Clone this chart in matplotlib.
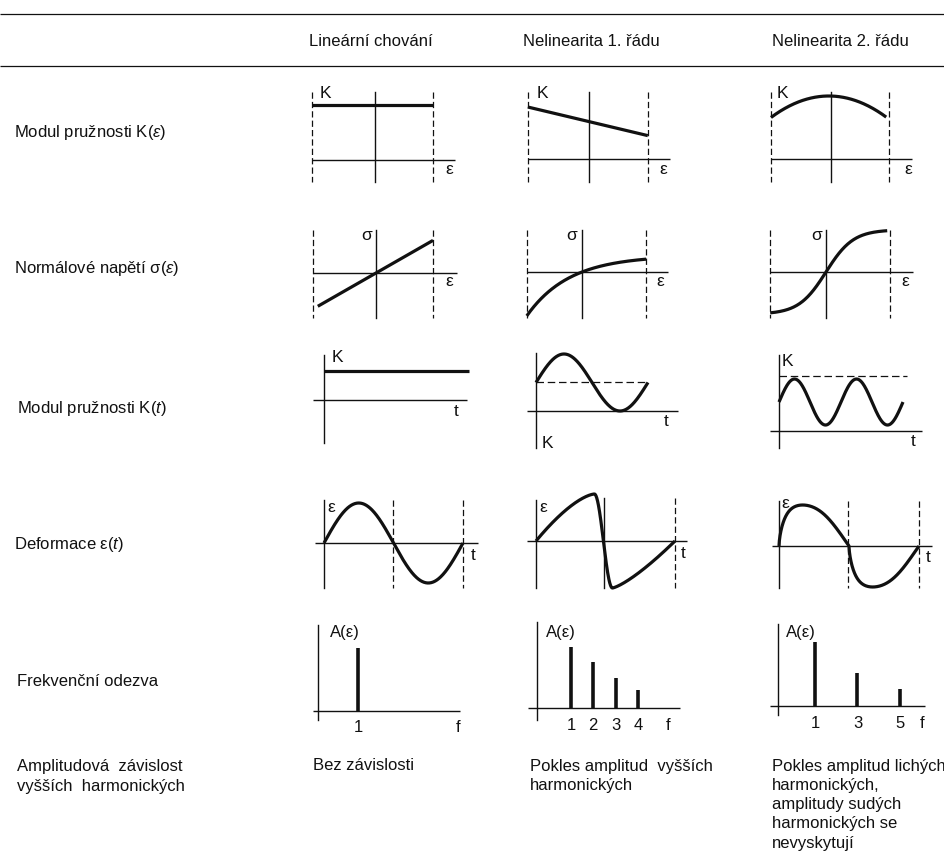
import numpy as np
import matplotlib
matplotlib.use("Agg")
import matplotlib.pyplot as plt

plt.rcParams["font.family"] = ["Liberation Sans", "DejaVu Sans"]
plt.rcParams["mathtext.fontset"] = "custom"
plt.rcParams["mathtext.rm"] = "Liberation Sans"
plt.rcParams["mathtext.it"] = "Liberation Sans:italic"

# ---- table text
col_heads = ["Lineární chování", "Nelinearita 1. řádu", "Nelinearita 2. řádu"]
row_heads = [
    "Modul pružnosti K($\\mathit{ε}$)",
    "Normálové napětí σ($\\mathit{ε}$)",
    "Modul pružnosti K($\\mathit{t}$)",
    "Deformace ε($\\mathit{t}$)",
    "Frekvenční odezva",
]
last_row_head = ["Amplitudová  závislost", "vyšších  harmonických"]
last_row_cells = [
    ["Bez závislosti"],
    ["Pokles amplitud  vyšších", "harmonických"],
    ["Pokles amplitud lichých", "harmonických,", "amplitudy sudých",
     "harmonických se", "nevyskytují"],
]

# ---- curve parameters
K_lin = 1.0
K1_a, K1_b = 0.68, -0.26                 # K = a + b*eps
K2_a, K2_b, K2_c = 1.145, -0.03, -0.42   # K = a + b*eps + c*eps^2
E_lin = 1.04
s1_a, s1_b = 0.5, 1.41                   # sigma = a(1 - exp(-b eps))
s2_a, s2_b = 1.28, 2.2                   # sigma = a tanh(b eps)
Kt1_mean = 1.0
Kt2_mean, Kt2_periods = 1.26, 2.0
saw_peak, saw_trough = 0.42, 0.55
sq_warp, sq_third = 0.64, 0.05

# ---- frequency response
harm_lin, amp_lin = [1], [1.0]
harm_1, amp_1 = [1, 2, 3, 4], [1.0, 0.75, 0.5, 0.3]
harm_2, amp_2 = [1, 3, 5], [1.0, 0.52, 0.27]

INK = "#111111"
FS = 12
W, H = 945, 867
fig = plt.figure(figsize=(W / 100, H / 100), dpi=100)
bg = fig.add_axes([0, 0, 1, 1])
bg.set_xlim(0, W)
bg.set_ylim(H, 0)
bg.axis("off")


def cell(ox, oy, sx, sy):
    # small axes whose data origin sits at pixel (ox, oy)
    L, T, R, B = ox - 130, oy - 110, ox + 160, oy + 100
    ax = fig.add_axes([L / W, 1 - B / H, (R - L) / W, (B - T) / H])
    ax.set_xlim((L - ox) / sx, (R - ox) / sx)
    ax.set_ylim((oy - B) / sy, (oy - T) / sy)
    ax.axis("off")
    return ax


def hl(y, x0, x1, lw=1.0):
    bg.plot([x0, x1], [y, y], color=INK, lw=lw, solid_capstyle="butt")


def vl(x, y0, y1, dashed=False):
    bg.plot([x, x], [y0, y1], color=INK, lw=0.9 if dashed else 1.0,
            ls=(0, (5, 2.5)) if dashed else "-")


def lab(x, y, s, size=12.5):
    bg.text(x, y, s, fontsize=size, ha="center", va="center", color=INK)


def curve(ax, x, y, **kw):
    ax.plot(x, y, color=INK, lw=2.3, solid_capstyle="butt", clip_on=False, **kw)


# ---- table frame and headers
hl(14, 0, W, 0.9)
hl(66, 0, W, 0.9)
for x, s in zip([371, 591, 840], col_heads):
    bg.text(x, 42, s, fontsize=FS, ha="center", va="center", color=INK)
for (x, y), s in zip([(14, 132), (14, 268), (17, 408), (14, 545), (17, 681)], row_heads):
    bg.text(x, y, s, fontsize=FS, ha="left", va="center", color=INK)
for i, s in enumerate(last_row_head):
    bg.text(17, 766 + 20 * i, s, fontsize=FS, ha="left", va="center", color=INK)
for x, lines in zip([313, 530, 772], last_row_cells):
    for i, s in enumerate(lines):
        bg.text(x, 766 + 19.3 * i, s, fontsize=FS, ha="left", va="center", color=INK)

# ---- row 1: K(eps)
for ox, oy, xs, h in [(375, 160, (312, 433), (312, 455)),
                      (589, 159, (528, 648), (528, 670)),
                      (831, 159, (771, 889), (771, 912))]:
    hl(oy, *h)
    vl(xs[0], 92, 182, True)
    vl(ox, 92, 182)
    vl(xs[1], 92, 182, True)

ax = cell(375, 160, 60, 55)
e = np.linspace(-1.05, 0.97, 50)
curve(ax, e, np.full_like(e, K_lin))
ax = cell(589, 159, 60, 55)
e = np.linspace(-1.02, 0.98, 50)
curve(ax, e, K1_a + K1_b * e)
ax = cell(831, 159, 60, 55)
e = np.linspace(-1.0, 0.92, 200)
curve(ax, e, K2_a + K2_b * e + K2_c * e ** 2)
for x in [325, 542, 782]:
    lab(x, 94, "K")
for x in [449, 663, 908]:
    lab(x, 170, "ε")

# ---- row 2: sigma(eps)
for ox, oy, xs, h in [(376, 273, (313, 433), (313, 457)),
                      (582, 272, (527, 646), (527, 668)),
                      (826, 272, (770, 890), (770, 913))]:
    hl(oy, *h)
    vl(xs[0], 230, 318, True)
    vl(ox, 230, 318)
    vl(xs[1], 230, 318, True)

ax = cell(376, 273, 60, 33)
e = np.linspace(-0.97, 0.95, 50)
curve(ax, e, E_lin * e)
ax = cell(582, 272, 60, 33)
e = np.linspace(-0.92, 1.07, 200)
curve(ax, e, s1_a * (1 - np.exp(-s1_b * e)))
ax = cell(826, 272, 60, 33)
e = np.linspace(-0.93, 1.02, 200)
curve(ax, e, s2_a * np.tanh(s2_b * e))
for x in [367, 572, 817]:
    lab(x, 236, "σ")
for x in [449, 660, 905]:
    lab(x, 282, "ε")

# ---- row 3: K(t)
hl(400, 313, 467)
vl(324, 355, 443)
hl(411, 527, 678)
vl(536, 353, 448)
hl(431, 770, 922)
vl(779, 355, 448)

ax = cell(324, 400, 100, 29)
t = np.linspace(0, 1.45, 50)
curve(ax, t, np.full_like(t, K_lin))
ax = cell(536, 411, 112, 28.5)
t = np.linspace(0, 1, 300)
curve(ax, t, Kt1_mean + np.sin(2 * np.pi * t))
ax.plot([0, 1], [Kt1_mean, Kt1_mean], color=INK, lw=0.9, ls=(0, (6, 3)))
ax = cell(779, 431, 62, 23)
t = np.linspace(0, Kt2_periods, 400)
curve(ax, t, Kt2_mean + np.sin(2 * np.pi * t))
bg.plot([779, 907], [376, 376], color=INK, lw=0.9, ls=(0, (6, 3)))
lab(337, 358, "K")
lab(456, 411, "t")
lab(547, 443, "K")
lab(666, 422, "t")
lab(787, 362, "K")
lab(913, 442, "t")

# ---- row 4: eps(t)
hl(543, 315, 478)
vl(324, 500, 588)
vl(393, 500, 588, True)
vl(463, 500, 588, True)
hl(541, 527, 687)
vl(536, 500, 588)
vl(604, 498, 588)
vl(675, 498, 588, True)
hl(546, 772, 932)
vl(779, 501, 588)
vl(848, 501, 588, True)
vl(919, 501, 588, True)

ax = cell(324, 543, 139, 40)
t = np.linspace(0, 1, 300)
curve(ax, t, np.sin(2 * np.pi * t))

ax = cell(536, 541, 139, 47)
t = np.linspace(0, 1, 800)
u = np.clip(t / saw_peak, 0, 1)
rise = 1 - (1 - u) ** 1.5
drop = np.cos(np.pi * (t - saw_peak) / (saw_trough - saw_peak))
v = np.clip((t - saw_trough) / (1 - saw_trough), 0, 1)
tail = -(1 - v ** 1.3)
curve(ax, t, np.where(t < saw_peak, rise, np.where(t < saw_trough, drop, tail)))

ax = cell(779, 546, 140, 41)
t = np.linspace(0, 1, 800)
u = np.where(t < 0.5, 2 * t, 2 * t - 1)
th = np.pi * u ** sq_warp
g = np.sin(th) + sq_third * np.sin(3 * th)
g = g / g.max()
curve(ax, t, np.where(t < 0.5, g, -g))
lab(331, 507, "ε")
lab(473, 555, "t")
lab(543, 507, "ε")
lab(683, 553, "t")
lab(785, 503, "ε")
lab(928, 557, "t")

# ---- row 5: spectra
hl(711, 313, 460)
vl(318, 625, 720)
hl(708, 528, 680)
vl(537, 622, 720)
hl(706, 770, 925)
vl(778, 624, 715)

for (ox, oy, sx, sy), harm, amp, fx in [((318, 711, 40, 63), harm_lin, amp_lin, 3.5),
                                        ((548.7, 708, 22.3, 61), harm_1, amp_1, 5.35),
                                        ((793.75, 706, 21.25, 64), harm_2, amp_2, 6.03)]:
    ax = cell(ox, oy, sx, sy)
    ax.vlines(harm, 0, amp, color=INK, lw=2.6)
    for n in harm:
        ax.text(n, -17 / sy, str(n), fontsize=12, ha="center", va="center", color=INK)
    ax.text(fx, -17 / sy, "f", fontsize=12, ha="center", va="center", color=INK)
for x in [345, 561, 801]:
    bg.text(x, 632, "A(ε)", fontsize=12, ha="center", va="center", color=INK)

fig.savefig("out.png", dpi=100)
